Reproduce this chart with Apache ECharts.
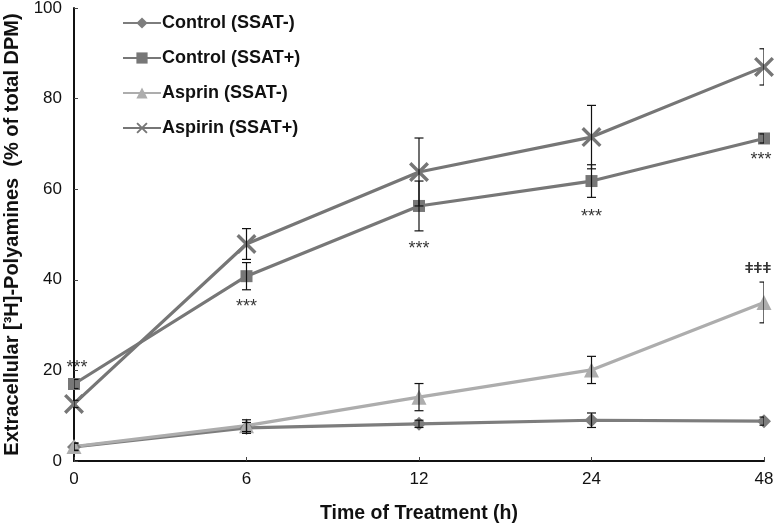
<!DOCTYPE html>
<html><head><meta charset="utf-8">
<script src="https://cdn.jsdelivr.net/npm/echarts@6/dist/echarts.min.js"></script>
<style>html,body{margin:0;padding:0;background:#fff}#c{width:774px;height:525px}</style>
</head><body><div id="c"></div>
<script>
const hours = ['0', '6', '12', '24', '48'];
const seriesNames = ['Control (SSAT-)', 'Control (SSAT+)', 'Asprin (SSAT-)', 'Aspirin (SSAT+)'];
const controlNeg = [3.1, 7.3, 8.2, 9.0, 8.8];
const controlNegErr = [0.8, 1.2, 0.8, 1.6, 0.9];
const controlPos = [17.0, 40.8, 56.3, 61.8, 71.2];
const controlPosErr = [1.0, 3.0, 5.5, 3.6, 1.0];
const aspirinNeg = [3.2, 7.8, 14.1, 20.1, 35.0];
const aspirinNegErr = [0.8, 1.3, 3.0, 3.0, 4.5];
const aspirinPos = [12.6, 47.9, 63.8, 71.5, 87.0];
const aspirinPosErr = [0.8, 3.4, 7.5, 7.0, 4.0];
const starX = [0, 1, 2, 3, 4];
const starY = [20.6, 34.0, 46.8, 53.8, 66.4];
const starText = '***';
const daggerX = [4];
const daggerY = [42.4];
const daggerText = 'ǂǂǂ';
const yTicks = [0, 20, 40, 60, 80, 100];

const colors = ['#7d7d7d', '#777777', '#adadad', '#767676'];
const values = [controlNeg, controlPos, aspirinNeg, aspirinPos];
const errs = [controlNegErr, controlPosErr, aspirinNegErr, aspirinPosErr];
const symbols = ['diamond', 'rect', 'triangle', 'path://M0,1.2L1.2,0L10,8.8L8.8,10Z M8.8,0L10,1.2L1.2,10L0,8.8Z'];
const sizes = [14, 12, 15, 20];

const chart = echarts.init(document.getElementById('c'));
const series = [];
values.forEach((v, k) => {
  series.push({
    name: seriesNames[k], type: 'line', data: v,
    symbol: symbols[k], symbolSize: sizes[k], showSymbol: true,
    lineStyle: {color: colors[k], width: 3.2},
    itemStyle: {color: colors[k], borderWidth: 0},
    z: 3
  });
});
values.forEach((v, k) => {
  series.push({
    type: 'custom', clip: true, z: 5,
    data: v.map((y, i) => [i, y - errs[k][i], y + errs[k][i]]),
    renderItem: function (params, api) {
      const lo = api.coord([api.value(0), api.value(1)]);
      const hi = api.coord([api.value(0), api.value(2)]);
      const w = 4.5;
      const st = {stroke: '#111', lineWidth: 1.2, fill: null};
      return {type: 'group', children: [
        {type: 'line', shape: {x1: lo[0], y1: lo[1], x2: hi[0], y2: hi[1]}, style: st},
        {type: 'line', shape: {x1: lo[0] - w, y1: lo[1], x2: lo[0] + w, y2: lo[1]}, style: st},
        {type: 'line', shape: {x1: hi[0] - w, y1: hi[1], x2: hi[0] + w, y2: hi[1]}, style: st}
      ]};
    }
  });
});
series.push({
  type: 'scatter', symbolSize: 0, z: 6,
  data: starX.map((x, i) => ({
    value: [x, starY[i]],
    label: {offset: [i === 0 ? 3 : (i === starX.length - 1 ? -3 : 0), 0]}
  })),
  label: {show: true, position: 'inside', color: '#000', fontSize: 18,
    fontFamily: 'Liberation Sans', formatter: () => starText}
});
series.push({
  type: 'scatter', symbolSize: 0, z: 6,
  data: daggerX.map((x, i) => [x, daggerY[i]]),
  label: {show: true, position: 'inside', color: '#000', fontSize: 15, fontWeight: 'bold',
    fontFamily: 'Liberation Sans', formatter: () => daggerText, offset: [-6, 0]}
});

chart.setOption({
  animation: false,
  backgroundColor: '#fff',
  grid: {left: 74, right: 10, top: 8, bottom: 64, outerBoundsMode: 'none', containLabel: false},
  legend: {
    data: seriesNames, orient: 'vertical', left: 117, top: 9,
    itemWidth: 38, itemHeight: 14, itemGap: 17,
    textStyle: {fontSize: 18, fontWeight: 'bold', color: '#111', fontFamily: 'Liberation Sans', padding: [0, 0, 0, -4]}
  },
  xAxis: {
    type: 'category', data: hours, boundaryGap: false,
    name: 'Time of Treatment (h)', nameLocation: 'middle', nameGap: 43,
    nameTextStyle: {fontSize: 19.5, fontWeight: 'bold', color: '#111', fontFamily: 'Liberation Sans'},
    axisLine: {lineStyle: {color: '#111', width: 2}},
    axisTick: {inside: true, length: 4, lineStyle: {color: '#444'}},
    axisLabel: {fontSize: 17, color: '#111', margin: 10, fontFamily: 'Liberation Sans Narrow, Liberation Sans'},
    splitLine: {show: false}
  },
  yAxis: {
    type: 'value', min: 0, max: 100, interval: 20,
    name: 'Extracellular [³H]-Polyamines  (% of total DPM)', nameLocation: 'middle', nameGap: 46,
    nameTextStyle: {fontSize: 20, fontWeight: 'bold', color: '#111', fontFamily: 'Liberation Sans'},
    axisLine: {show: true, lineStyle: {color: '#111', width: 2}},
    axisTick: {show: true, inside: true, length: 4, lineStyle: {color: '#444'}},
    axisLabel: {fontSize: 17, color: '#111', margin: 12, fontFamily: 'Liberation Sans Narrow, Liberation Sans',
      formatter: v => yTicks.includes(v) ? String(v) : ''},
    splitLine: {show: false}
  },
  series: series
});
</script></body></html>
